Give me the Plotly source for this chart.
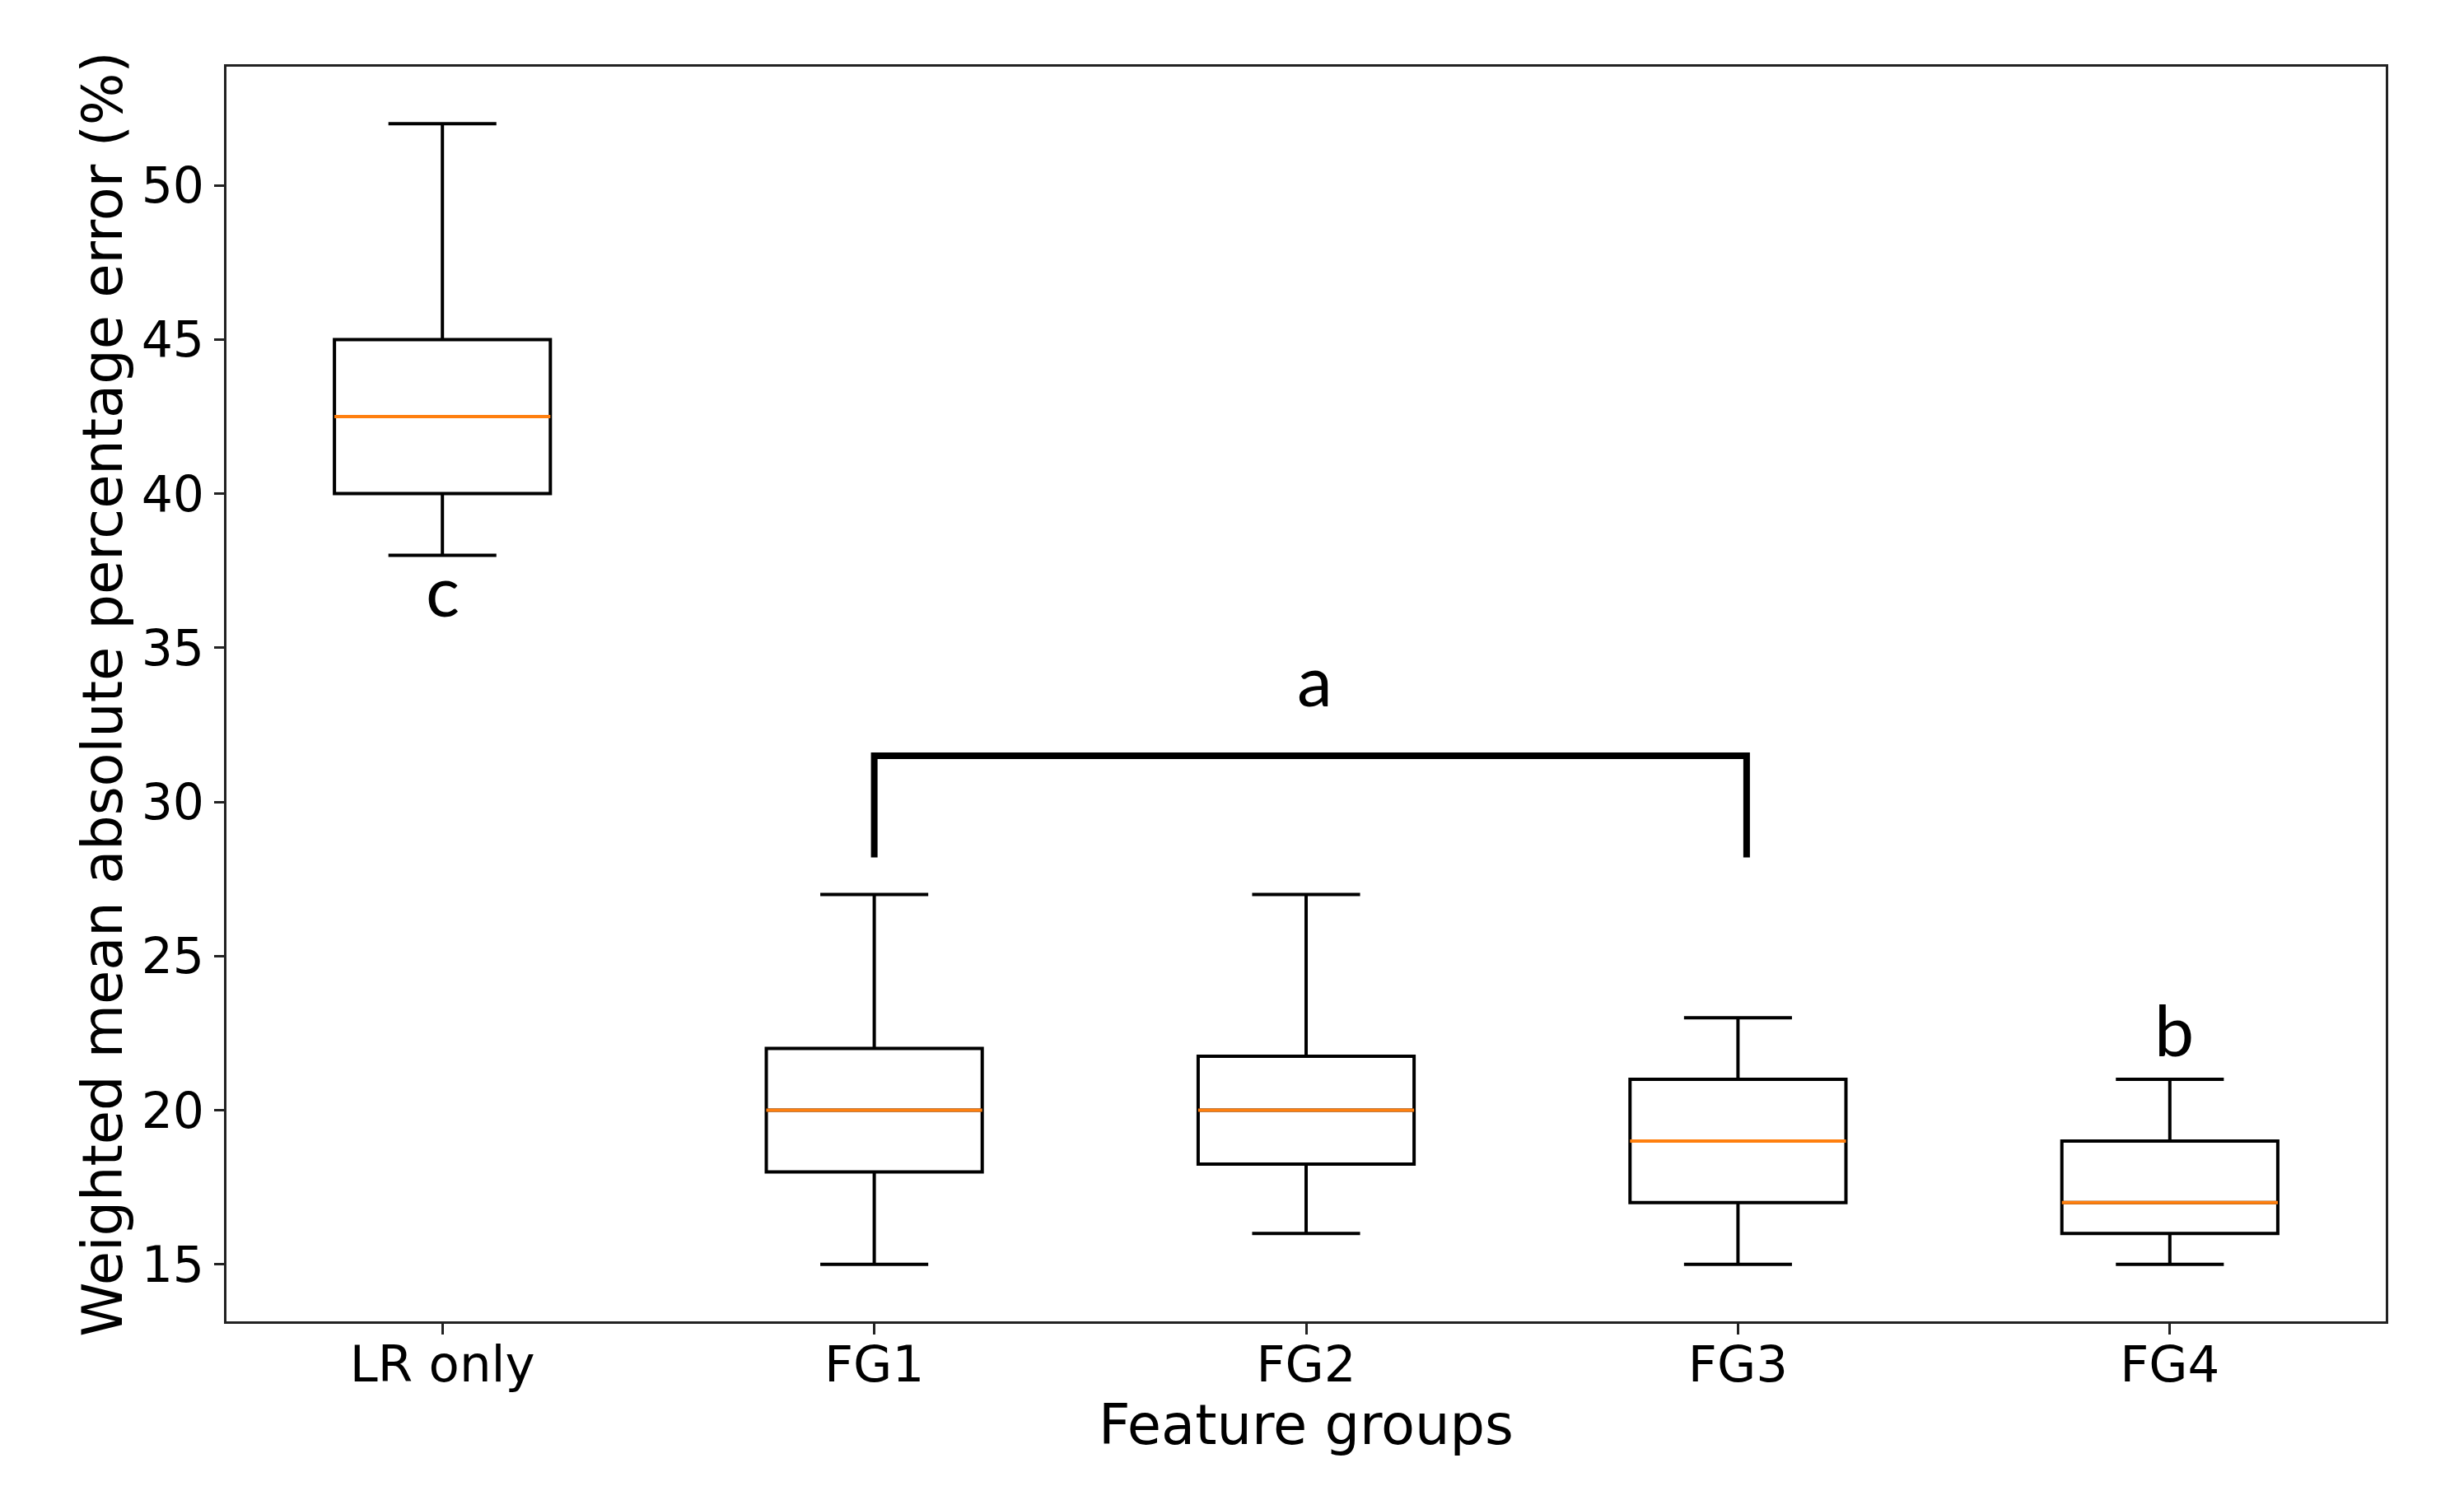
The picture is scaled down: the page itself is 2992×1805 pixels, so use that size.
import plotly.graph_objects as go

# ---- data ----
categories = ["LR only", "FG1", "FG2", "FG3", "FG4"]
positions = [1, 2, 3, 4, 5]
lower_whisker = [38, 15, 16, 15, 15]
q1 = [40, 18, 18.25, 17, 16]
median = [42.5, 20, 20, 19, 17]
q3 = [45, 22, 21.75, 21, 19]
upper_whisker = [52, 27, 27, 23, 21]

y_ticks = [15, 20, 25, 30, 35, 40, 45, 50]

letter_text = ["c", "a", "b"]
letter_x = [1, 3.02, 5.01]
letter_y = [36.9, 34.0, 22.65]

bracket_x = [2, 2, 4.02, 4.02]
bracket_y = [28.2, 31.5, 31.5, 28.2]

BOX_WIDTH = 0.5

fig = go.Figure()

for i, cat in enumerate(categories):
    fig.add_trace(go.Box(
        x=[positions[i]],
        q1=[q1[i]], median=[median[i]], q3=[q3[i]],
        lowerfence=[lower_whisker[i]], upperfence=[upper_whisker[i]],
        width=BOX_WIDTH, whiskerwidth=0.5,
        line=dict(color="black", width=4),
        fillcolor="rgba(255,255,255,0)",
        boxpoints=False, showlegend=False, name=cat,
        hoverinfo="skip",
    ))

# orange median lines
for i in range(len(categories)):
    fig.add_trace(go.Scatter(
        x=[positions[i] - BOX_WIDTH / 2, positions[i] + BOX_WIDTH / 2],
        y=[median[i], median[i]],
        mode="lines", line=dict(color="#ff7f0e", width=4),
        showlegend=False, hoverinfo="skip",
    ))

# significance bracket
fig.add_trace(go.Scatter(
    x=bracket_x, y=bracket_y, mode="lines",
    line=dict(color="black", width=8), showlegend=False, hoverinfo="skip",
))

for t, x, y in zip(letter_text, letter_x, letter_y):
    fig.add_annotation(x=x, y=y, text=t, showarrow=False,
                       font=dict(family="Lato", size=86, color="black"),
                       xanchor="center", yanchor="middle")

fig.update_layout(
    width=2992, height=1805,
    margin=dict(l=267, r=103, t=73, b=208),
    paper_bgcolor="white", plot_bgcolor="white",
    font=dict(family="DejaVu Sans", color="black"),
    showlegend=False,
)

fig.update_xaxes(
    range=[0.5, 5.5], tickmode="array", tickvals=positions, ticktext=categories,
    showgrid=False, zeroline=False,
    showline=True, mirror=True, linecolor="#222", linewidth=3,
    ticks="outside", ticklen=13, tickwidth=3, tickcolor="#222",
    ticklabelstandoff=-16,
    tickfont=dict(size=61, family="DejaVu Sans", color="black"),
    title=dict(text="Feature groups", font=dict(size=67, family="DejaVu Sans", color="black"), standoff=0),
)
fig.update_yaxes(
    range=[13.15, 53.85], tickmode="array", tickvals=y_ticks,
    showgrid=False, zeroline=False,
    showline=True, mirror=True, linecolor="#222", linewidth=3,
    ticks="outside", ticklen=12, tickwidth=3, tickcolor="#222",
    tickfont=dict(size=60, family="DejaVu Sans", color="black"),
    title=dict(text="Weighted mean absolute percentage error (%)",
               font=dict(size=67, family="DejaVu Sans", color="black"), standoff=2),
)

fig.write_html("out.html")
